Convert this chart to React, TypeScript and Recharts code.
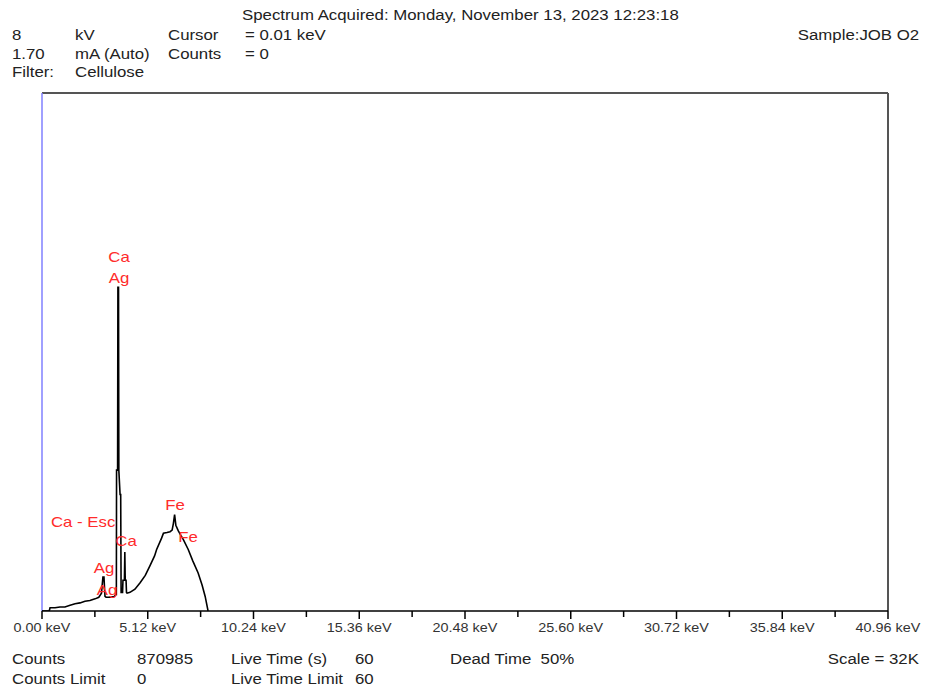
import React from 'react';
import { LineChart, Line, XAxis, YAxis, ReferenceLine, ReferenceDot } from 'recharts';

// Spectrum (energy in keV, counts)
const energy = [0, 0.35, 0.39, 0.63, 0.87, 1.11, 1.36, 1.6, 1.84, 2.08, 2.32, 2.57, 2.75, 2.88, 2.95, 3.0, 3.05, 3.1, 3.3, 3.5, 3.56, 3.6, 3.61, 3.66, 3.675, 3.705, 3.72, 3.78, 3.81, 3.83, 3.9, 3.92, 3.99, 4.01, 4.03, 4.07, 4.09, 4.12, 4.26, 4.5, 4.75, 5.0, 5.23, 5.45, 5.55, 5.79, 5.88, 6.05, 6.2, 6.3, 6.36, 6.42, 6.48, 6.6, 6.85, 7.08, 7.3, 7.56, 7.75, 7.9, 8.04];
const counts = [0, 0, 200, 200, 250, 250, 350, 450, 500, 600, 650, 750, 850, 1100, 2100, 2100, 900, 850, 850, 900, 1000, 1000, 8700, 8700, 20000, 20000, 8700, 7200, 7200, 1150, 1150, 1900, 1900, 3650, 1900, 1900, 1150, 1100, 1150, 1350, 1750, 2200, 2800, 3400, 3800, 4500, 4800, 4850, 4900, 5000, 5400, 5950, 5300, 4950, 4400, 3800, 3100, 2350, 1600, 900, 0];

const tickValues = [0, 2.56, 5.12, 7.68, 10.24, 12.8, 15.36, 17.92, 20.48, 23.04, 25.6, 28.16, 30.72, 33.28, 35.84, 38.4, 40.96];
const fullScale = 32000;

// Peak identification labels
const peakNames = ['Ca', 'Ag', 'Ca - Esc', 'Ca', 'Ag', 'Ag', 'Fe', 'Fe'];
const peakEnergy = [3.73, 3.73, 1.99, 4.07, 3.0, 3.15, 6.44, 7.07];
const peakLabelCounts = [21870, 20573, 5498, 4325, 2657, 1297, 6549, 4572];

const headerTitle = 'Spectrum Acquired: Monday, November 13, 2023 12:23:18';
const headerCol1 = ['8', '1.70', 'Filter:'];
const headerCol2 = ['kV', 'mA (Auto)', 'Cellulose'];
const headerCol3 = ['Cursor', 'Counts'];
const headerCol4 = ['= 0.01 keV', '= 0'];
const sampleText = 'Sample:JOB O2';
const footerCol1 = ['Counts', 'Counts Limit'];
const footerCol2 = ['870985', '0'];
const footerCol3 = ['Live Time (s)', 'Live Time Limit'];
const footerCol4 = ['60', '60'];
const deadTime = 'Dead Time  50%';
const scaleText = 'Scale = 32K';

const data = energy.map((e, i) => ({ e, c: counts[i] }));

const FONT = '"Liberation Sans", Arial, sans-serif';

const T = ({ x, y, right, children }: any) => (
  <div
    style={{
      position: 'absolute',
      top: y - 9,
      left: right ? undefined : x,
      right: right ? 925 - x : undefined,
      fontSize: 14,
      lineHeight: '18px',
      transform: 'scaleX(1.2)',
      transformOrigin: right ? 'right center' : 'left center',
      whiteSpace: 'pre',
      color: '#222',
      fontFamily: FONT,
    }}
  >
    {children}
  </div>
);

const AxisTick = (props: any) => {
  const { x, y, payload } = props;
  const v = payload.value;
  const major = Math.abs(v / 5.12 - Math.round(v / 5.12)) < 1e-6;
  return (
    <g>
      <line x1={x} x2={x} y1={y} y2={y + (major ? 8 : 6)} stroke="#000" strokeWidth={1.5} />
      {major && (
        <text
          transform={`translate(${x},${y + 21}) scale(1.2,1)`}
          textAnchor="middle"
          fontSize={12}
          fill="#333"
          fontFamily={FONT}
        >
          {v.toFixed(2)} keV
        </text>
      )}
    </g>
  );
};

const PeakLabel = (text: string) => (props: any) => {
  const vb = props.viewBox || {};
  const x = vb.x + (vb.width || 0) / 2;
  const y = vb.y + (vb.height || 0) / 2;
  return (
    <text
      transform={`translate(${x},${y}) scale(1.2,1)`}
      textAnchor="middle"
      dominantBaseline="central"
      fontSize={14}
      fill="#ff2b2b"
      fontFamily={FONT}
    >
      {text}
    </text>
  );
};

export default function App() {
  return (
    <div style={{ position: 'absolute', left: 0, top: 0, width: 925, height: 688, background: '#fff', overflow: 'hidden' }}>
      <div style={{ position: 'absolute', left: 0, top: 0 }}>
        <LineChart width={925} height={688} data={data} margin={{ top: 93, right: 37, left: 42, bottom: 47 }}>
          <XAxis
            dataKey="e"
            type="number"
            domain={[0, 40.96]}
            ticks={tickValues}
            interval={0}
            height={30}
            tickSize={0}
            tickMargin={0}
            tickLine={false}
            axisLine={{ stroke: '#000', strokeWidth: 1.5 }}
            tick={<AxisTick />}
            allowDataOverflow
          />
          <YAxis type="number" domain={[0, fullScale]} hide allowDataOverflow />
          <ReferenceLine y={fullScale} stroke="#555" strokeWidth={2} />
          <ReferenceLine x={40.96} stroke="#555" strokeWidth={2} />
          <ReferenceLine x={0} stroke="#8080ff" strokeWidth={1.5} />
          <Line
            type="linear"
            dataKey="c"
            stroke="#000"
            strokeWidth={1.6}
            dot={false}
            isAnimationActive={false}
          />
          {peakNames.map((n, i) => (
            <ReferenceDot
              key={i}
              x={peakEnergy[i]}
              y={peakLabelCounts[i]}
              r={0}
              fill="none"
              stroke="none"
              label={PeakLabel(n)}
            />
          ))}
        </LineChart>
      </div>
      <T x={242} y={15}>{headerTitle}</T>
      {headerCol1.map((s, i) => <T key={'a' + i} x={12} y={35 + i * 18.5}>{s}</T>)}
      {headerCol2.map((s, i) => <T key={'b' + i} x={75} y={35 + i * 18.5}>{s}</T>)}
      {headerCol3.map((s, i) => <T key={'c' + i} x={168} y={35 + i * 18.5}>{s}</T>)}
      {headerCol4.map((s, i) => <T key={'d' + i} x={245} y={35 + i * 18.5}>{s}</T>)}
      <T x={919} y={35} right>{sampleText}</T>
      {footerCol1.map((s, i) => <T key={'e' + i} x={12} y={659 + i * 20}>{s}</T>)}
      {footerCol2.map((s, i) => <T key={'f' + i} x={137} y={659 + i * 20}>{s}</T>)}
      {footerCol3.map((s, i) => <T key={'g' + i} x={231} y={659 + i * 20}>{s}</T>)}
      {footerCol4.map((s, i) => <T key={'h' + i} x={355} y={659 + i * 20}>{s}</T>)}
      <T x={450} y={659}>{deadTime}</T>
      <T x={919} y={659} right>{scaleText}</T>
    </div>
  );
}
